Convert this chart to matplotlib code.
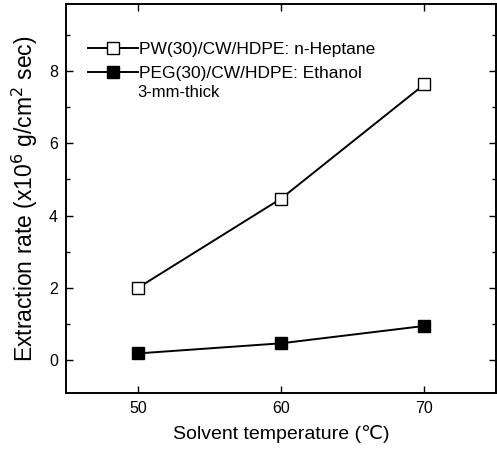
import matplotlib
matplotlib.use("Agg")
import matplotlib.pyplot as plt
from matplotlib.ticker import MultipleLocator

plt.rcParams['font.family'] = ['Liberation Sans', 'DejaVu Sans']

# data
temperature = [50, 60, 70]
pw_heptane = [2.0, 4.47, 7.63]
peg_ethanol = [0.19, 0.47, 0.95]

fig = plt.figure(figsize=(4.97, 4.5), dpi=100)
ax = fig.add_axes([0.133, 0.127, 0.865, 0.864])

ax.plot(temperature, pw_heptane, color="black", lw=1.4, marker="s",
        markersize=8, markerfacecolor="white", markeredgecolor="black",
        markeredgewidth=1.0, label="PW(30)/CW/HDPE: n-Heptane")
ax.plot(temperature, peg_ethanol, color="black", lw=1.4, marker="s",
        markersize=9, markerfacecolor="black", markeredgecolor="black",
        label="PEG(30)/CW/HDPE: Ethanol")

ax.set_xlim(45, 75)
ax.set_ylim(-0.9, 9.85)
ax.set_xticks(temperature)
ax.yaxis.set_major_locator(MultipleLocator(2))
ax.yaxis.set_minor_locator(MultipleLocator(1))
ax.tick_params(which="both", direction="in", top=True, right=True,
               labelsize=11.5, width=1.0)
ax.tick_params(which="major", length=5, pad=6)
ax.tick_params(which="minor", length=3)
for s in ax.spines.values():
    s.set_linewidth(1.4)

ax.set_xlabel("Solvent temperature (\u2103)", fontsize=14, labelpad=6)
ax.set_ylabel("Extraction rate (x10$^6$ g/cm$^2$ sec)", fontsize=16.5,
              labelpad=6)

leg = ax.legend(loc="upper left", bbox_to_anchor=(0.026, 0.93), frameon=False,
                fontsize=12.5, handlelength=2.9, handletextpad=0.05,
                labelspacing=0.5, borderaxespad=0.2)
ax.text(0.165, 0.772, "3-mm-thick", transform=ax.transAxes, fontsize=12,
        va="center", ha="left")

fig.savefig("out.png", dpi=100)
